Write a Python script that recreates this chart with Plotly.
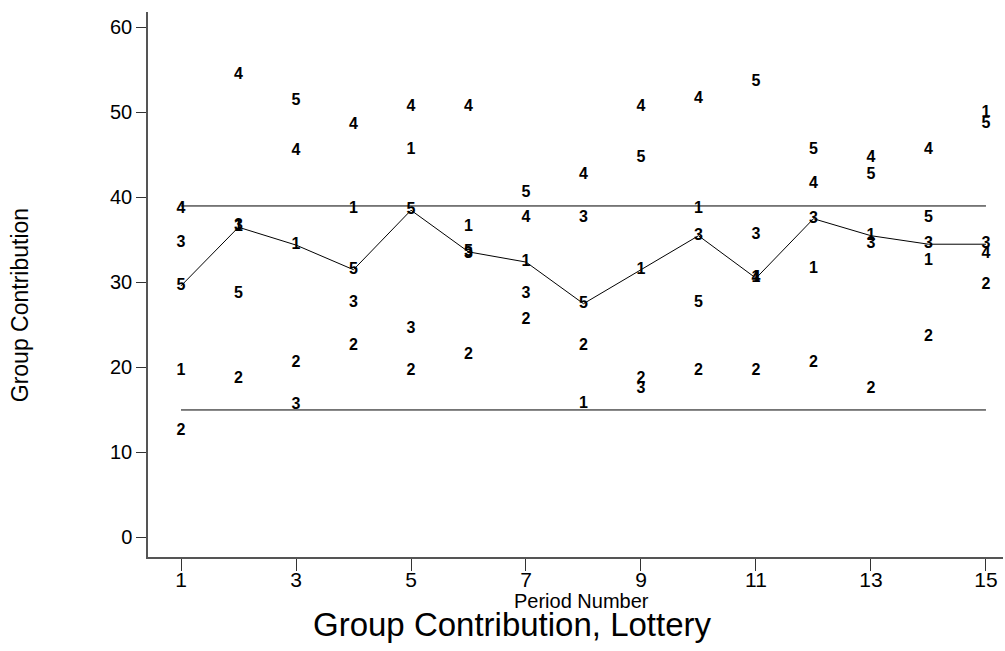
import plotly.graph_objects as go

periods = list(range(1, 16))
group_names = ["1", "2", "3", "4", "5"]
g1 = [19.6, 36.5, 34.4, 38.7, 45.6, 36.5, 32.4, 15.7, 31.5, 38.7, 30.5, 31.6, 35.5, 32.5, 49.9]
g2 = [12.5, 18.6, 20.5, 22.5, 19.6, 21.5, 25.6, 22.5, 18.7, 19.6, 19.6, 20.5, 17.5, 23.6, 29.7]
g3 = [34.7, 36.6, 15.6, 27.6, 24.5, 33.4, 28.7, 37.6, 17.5, 35.5, 35.6, 37.5, 34.5, 34.5, 34.5]
g4 = [38.7, 54.4, 45.5, 48.5, 50.7, 50.7, 37.6, 42.6, 50.7, 51.6, 30.5, 41.6, 44.7, 45.6, 33.4]
g5 = [29.6, 28.6, 51.3, 31.5, 38.5, 33.6, 40.5, 27.5, 44.7, 27.6, 53.6, 45.6, 42.6, 37.6, 48.6]
median = [29.6, 36.5, 34.4, 31.5, 38.5, 33.6, 32.4, 27.5, 31.5, 35.5, 30.5, 37.5, 35.5, 34.5, 34.5]
ref_upper = 39
ref_lower = 15
x_ticks = [1, 3, 5, 7, 9, 11, 13, 15]
y_ticks = [0, 10, 20, 30, 40, 50, 60]

groups = [g1, g2, g3, g4, g5]

fig = go.Figure()

for ref in [ref_upper, ref_lower]:
    fig.add_trace(go.Scatter(x=[periods[0], periods[-1]], y=[ref, ref], mode="lines",
                             line=dict(color="black", width=1), showlegend=False, hoverinfo="skip"))

fig.add_trace(go.Scatter(x=periods, y=median, mode="lines",
                         line=dict(color="black", width=1), showlegend=False))

for name, vals in zip(group_names, groups):
    fig.add_trace(go.Scatter(x=periods, y=vals, mode="text", text=[name] * len(vals),
                             textposition="middle center",
                             textfont=dict(family="Liberation Sans, Arial", size=16, color="black", weight="bold"),
                             showlegend=False))

fig.update_layout(
    width=1005, height=651,
    margin=dict(l=148, r=2, t=12, b=94),
    plot_bgcolor="white", paper_bgcolor="white",
    font=dict(family="Liberation Sans, Arial", color="black"),
    xaxis=dict(range=[0.426, 15.296], tickvals=x_ticks, ticktext=[str(t) for t in x_ticks],
               showgrid=False, zeroline=False, showline=True, linecolor="#555", linewidth=1.5,
               ticks="outside", ticklen=12, tickcolor="#333", tickwidth=1,
               ticklabelstandoff=-9,
               tickfont=dict(size=21, family="Liberation Sans, Arial")),
    yaxis=dict(range=[-2.3, 61.82], tickvals=y_ticks, ticktext=[str(t) for t in y_ticks],
               showgrid=False, zeroline=False, showline=True, linecolor="#555", linewidth=1.5,
               ticks="outside", ticklen=10, tickcolor="#333", tickwidth=1,
               tickfont=dict(size=20, family="Liberation Sans, Arial")),
    annotations=[
        dict(text="Group Contribution", xref="paper", yref="paper", x=-0.1497, y=0.462,
             textangle=-90, showarrow=False, font=dict(size=23), xanchor="center", yanchor="middle"),
        dict(text="Period Number", xref="paper", yref="paper", x=0.5076, y=-0.0807,
             showarrow=False, font=dict(size=20), xanchor="center", yanchor="middle"),
        dict(text="Group Contribution, Lottery", xref="paper", yref="paper", x=0.4269, y=-0.123,
             showarrow=False, font=dict(size=33), xanchor="center", yanchor="middle"),
    ],
)

fig.write_html("out.html")
